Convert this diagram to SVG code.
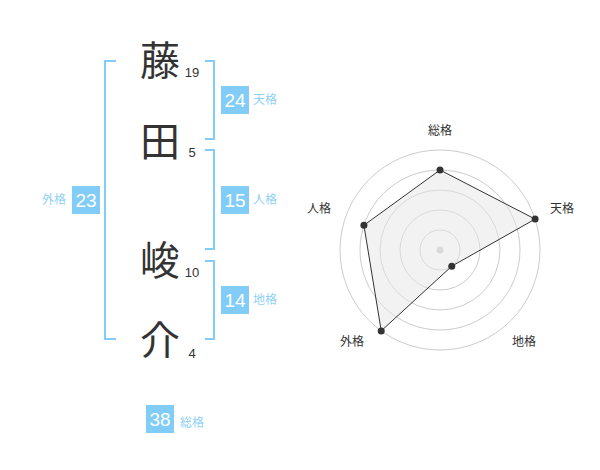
<svg xmlns="http://www.w3.org/2000/svg" width="600" height="470" viewBox="0 0 600 470">
<style>
.kanji{font-family:"Noto Sans CJK JP","Noto Sans CJK SC",sans-serif;font-size:40px;fill:#333;text-anchor:middle}
.num{font-family:"Liberation Sans",Arial,sans-serif;font-size:13px;fill:#333;text-anchor:middle}
.br{fill:none;stroke:#82cdf8;stroke-width:2}
.box{fill:#82cdf8}
.bn{font-family:"Liberation Sans",Arial,sans-serif;font-size:19px;fill:#fff;text-anchor:middle}
.lb{font-family:"Noto Sans CJK JP","Noto Sans CJK SC",sans-serif;font-size:12px;fill:#8ed1f7}
.rl{font-family:"Noto Sans CJK JP","Noto Sans CJK SC",sans-serif;font-size:12px;fill:#333;text-anchor:middle}
.ring{fill:none;stroke:#ccc;stroke-width:1}
.pt{fill:#333}
</style>
<rect width="600" height="470" fill="#fff"/>
<g id="chars">
<text class="kanji" x="160" y="75">藤</text>
<text class="num" x="192" y="77">19</text>
<text class="kanji" x="160" y="156">田</text>
<text class="num" x="192" y="157">5</text>
<text class="kanji" x="160" y="275">峻</text>
<text class="num" x="192" y="277">10</text>
<text class="kanji" x="160" y="355">介</text>
<text class="num" x="192" y="358">4</text>
</g>
<g id="connectors">
<path class="br" d="M116,61 H105 V339 H116"/>
<path class="br" d="M205,61 H214 V139 H205"/>
<path class="br" d="M205,150 H214 V249 H205"/>
<path class="br" d="M205,261 H214 V339 H205"/>
</g>
<g id="tenkaku">
<rect class="box" x="221" y="86" width="28" height="28"/>
<text class="bn" x="235" y="107">24</text>
<text class="lb" x="253" y="104">天格</text>
</g>
<g id="jinkaku">
<rect class="box" x="221" y="186" width="28" height="28"/>
<text class="bn" x="235" y="207">15</text>
<text class="lb" x="253" y="204">人格</text>
</g>
<g id="chikaku">
<rect class="box" x="221" y="286" width="28" height="28"/>
<text class="bn" x="235" y="307">14</text>
<text class="lb" x="253" y="304">地格</text>
</g>
<g id="gaikaku">
<rect class="box" x="72" y="186" width="28" height="28"/>
<text class="bn" x="86" y="207">23</text>
<text class="lb" x="66" y="204" text-anchor="end">外格</text>
</g>
<g id="soukaku">
<rect class="box" x="146" y="405" width="28" height="28"/>
<text class="bn" x="160" y="426">38</text>
<text class="lb" x="180" y="427">総格</text>
</g>
<g id="radar">
<circle class="ring" cx="440" cy="250" r="20"/>
<circle class="ring" cx="440" cy="250" r="40"/>
<circle class="ring" cx="440" cy="250" r="60"/>
<circle class="ring" cx="440" cy="250" r="80"/>
<circle class="ring" cx="440" cy="250" r="100"/>
<circle cx="440" cy="250" r="3.5" fill="#ccc"/>
<polygon points="440,170 535.11,219.1 451.76,266.18 381.22,330.9 363.92,225.28" fill="#e6e6e6" fill-opacity="0.5" stroke="#333" stroke-width="1"/>
<circle class="pt" cx="440" cy="170" r="3.5"/>
<circle class="pt" cx="535.11" cy="219.1" r="3.5"/>
<circle class="pt" cx="451.76" cy="266.18" r="3.5"/>
<circle class="pt" cx="381.22" cy="330.9" r="3.5"/>
<circle class="pt" cx="363.92" cy="225.28" r="3.5"/>
<text class="rl" x="440" y="135">総格</text>
<text class="rl" x="562" y="213">天格</text>
<text class="rl" x="319" y="213">人格</text>
<text class="rl" x="352" y="346">外格</text>
<text class="rl" x="524" y="346">地格</text>
</g>
</svg>
